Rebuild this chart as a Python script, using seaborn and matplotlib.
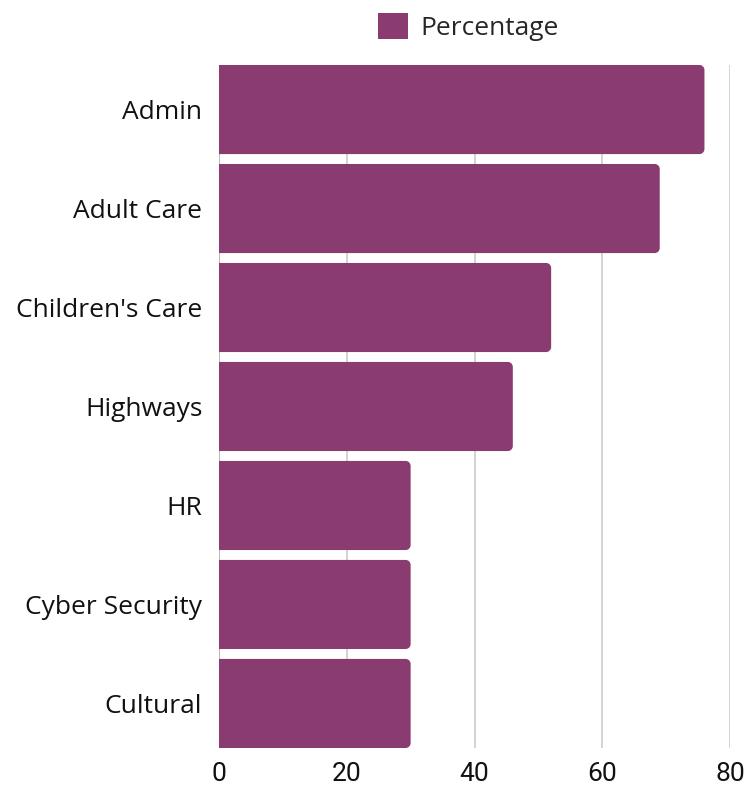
import matplotlib
matplotlib.use("Agg")
import matplotlib.pyplot as plt
import seaborn as sns
import pandas as pd
from matplotlib.path import Path
from matplotlib.patches import PathPatch, Patch

categories = ["Admin", "Adult Care", "Children's Care", "Highways", "HR", "Cyber Security", "Cultural"]
values = [76, 69, 52, 46, 30, 30, 30]
series_name = "Percentage"
xticks = [0, 20, 40, 60, 80]
bar_color = "#8A3B70"

df = pd.DataFrame({"Category": categories, series_name: values})

sns.set_theme(style="white")
plt.rcParams['font.family'] = ['Open Sans', 'DejaVu Sans']

fig = plt.figure(figsize=(7.46, 7.85), dpi=100)
ax = fig.add_axes([219/746, 1-748/785, (730-219)/746, (748-65)/785])

sns.barplot(data=df, y="Category", x=series_name, color=bar_color, width=0.9,
            saturation=1, ax=ax, zorder=3)

ax.set_xlim(0, 80)
ax.set_ylim(len(categories) - 0.55, -0.45)

# rounded right corners
fig.canvas.draw()
to_px = ax.transData
inv = to_px.inverted()
r_px = 5.0
for p in list(ax.patches):
    x0, y0 = p.get_x(), p.get_y()
    w, h = p.get_width(), p.get_height()
    x1, y1 = x0 + w, y0 + h
    (a0, b0) = to_px.transform((0, 0))
    rx = abs(inv.transform((a0 + r_px, b0))[0] - 0)
    ry = abs(inv.transform((a0, b0 + r_px))[1] - inv.transform((a0, b0))[1])
    k = 0.5523
    verts = [
        (x0, y0),
        (x1 - rx, y0),
        (x1 - rx + k*rx, y0), (x1, y0 + ry - k*ry), (x1, y0 + ry),
        (x1, y1 - ry),
        (x1, y1 - ry + k*ry), (x1 - rx + k*rx, y1), (x1 - rx, y1),
        (x0, y1),
        (x0, y0),
    ]
    codes = [Path.MOVETO, Path.LINETO,
             Path.CURVE4, Path.CURVE4, Path.CURVE4,
             Path.LINETO,
             Path.CURVE4, Path.CURVE4, Path.CURVE4,
             Path.LINETO, Path.CLOSEPOLY]
    pp = PathPatch(Path(verts, codes), facecolor=bar_color, edgecolor="none", zorder=3)
    p.set_visible(False)
    ax.add_patch(pp)

ax.set_xticks(xticks)
ax.set_xticklabels([str(t) for t in xticks], fontfamily="Roboto", fontsize=19, color="#111111")
ax.tick_params(axis="x", length=0, pad=10)
ax.tick_params(axis="y", length=0, pad=12, labelsize=19, labelcolor="#111111")
for lbl in ax.get_yticklabels():
    lbl.set_verticalalignment("center_baseline")
ax.xaxis.grid(True, color="#cccccc", linewidth=1.2, zorder=0)
ax.yaxis.grid(False)
for s in ax.spines.values():
    s.set_visible(False)
ax.axvline(0, color="#bbbbbb", linewidth=1.5, zorder=1)
ax.set_xlabel("")
ax.set_ylabel("")

handle = Patch(facecolor=bar_color, edgecolor="none")
fig.legend([handle], [series_name], loc="center", bbox_to_anchor=(468/746, 1-27/785),
           frameon=False, handlelength=1.15, handleheight=1.15,
           handletextpad=0.45, prop={"family": ["Open Sans"], "size": 19})

fig.savefig("out.png", dpi=100)
